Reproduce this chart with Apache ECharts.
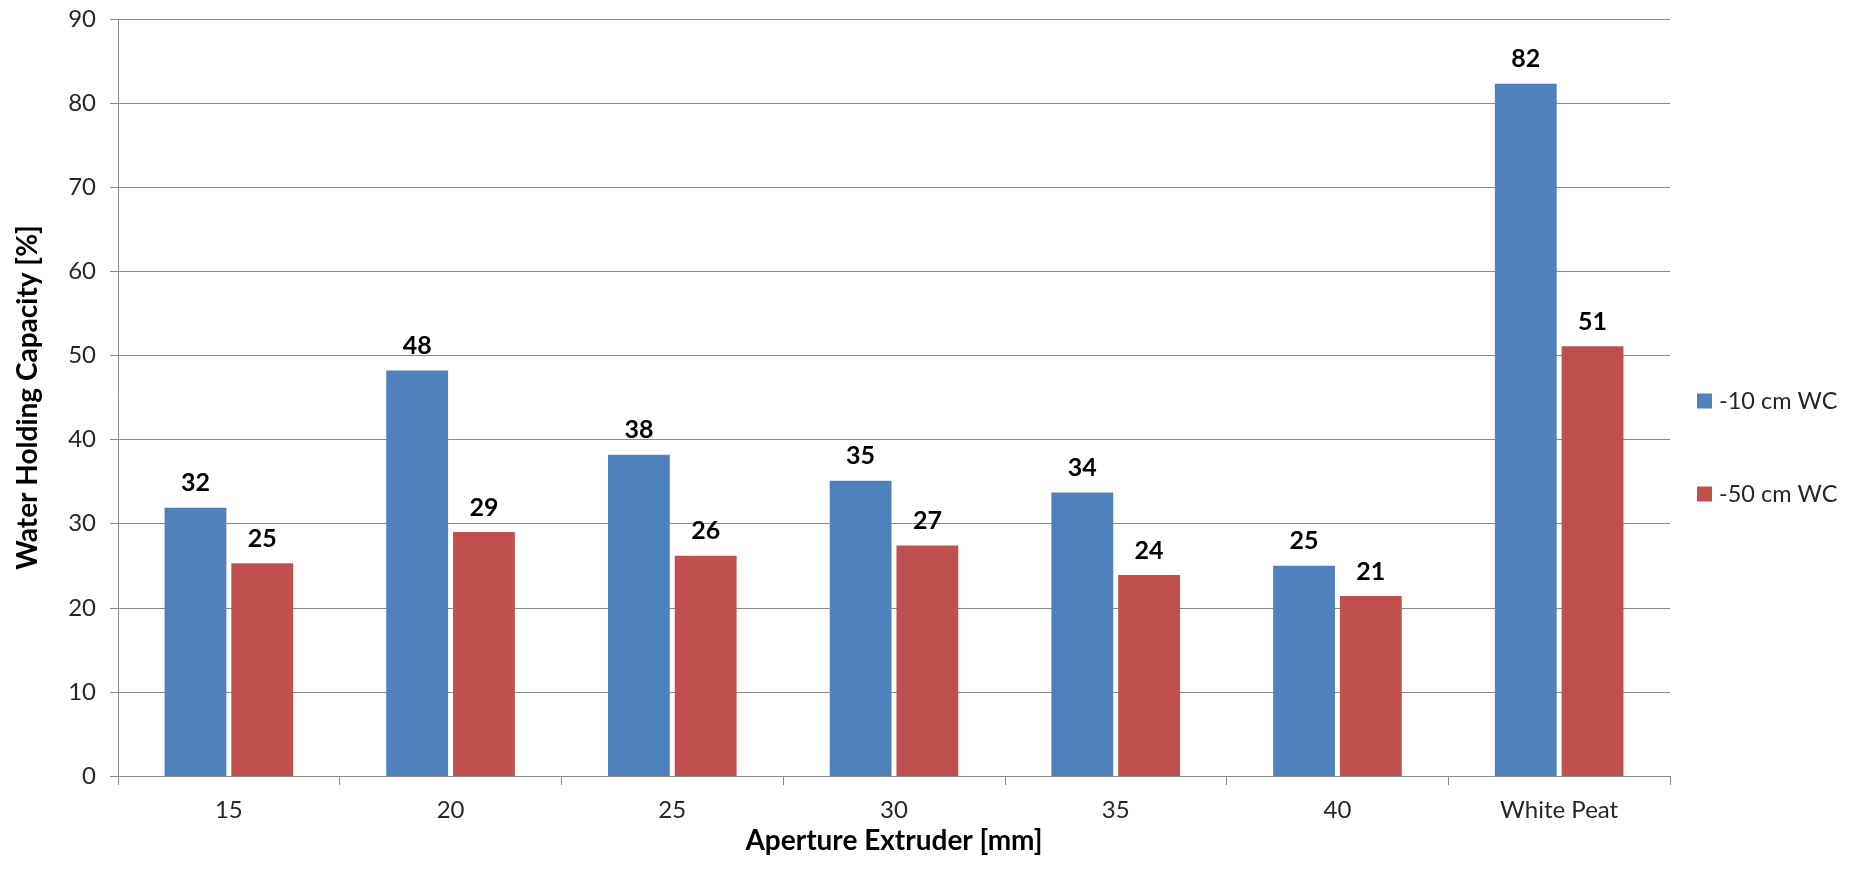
<!DOCTYPE html>
<html>
<head>
<meta charset="utf-8">
<title>Water Holding Capacity</title>
<script src="https://cdn.jsdelivr.net/npm/echarts@6/dist/echarts.min.js"></script>
<style>
  html, body { margin: 0; padding: 0; background: #ffffff; }
  #chart { width: 1850px; height: 870px; }
</style>
</head>
<body>
<div id="chart"></div>
<script>
// Aperture sizes of the extruder, plus the white peat reference
const categories = ['15', '20', '25', '30', '35', '40', 'White Peat'];

// Water holding capacity [%] at two suction levels
const seriesNames = ['-10 cm WC', '-50 cm WC'];
const wc10 = [31.9, 48.2, 38.2, 35.1, 33.7, 25.0, 82.3];
const wc50 = [25.3, 29.0, 26.2, 27.4, 23.9, 21.4, 51.1];

// Value axis ticks
const yMin = 0;
const yMax = 90;
const yStep = 10;

const FONT = 'Lato, "Open Sans", sans-serif';
const AXIS_GRAY = '#8a8a8a';

const chart = echarts.init(document.getElementById('chart'), null, { renderer: 'canvas' });

const barLabel = {
  show: true,
  position: 'top',
  distance: 12,
  color: '#000000',
  fontFamily: FONT,
  fontWeight: 'bold',
  fontSize: 25,
  formatter: p => Math.round(p.value).toString()
};

chart.setOption({
  animation: false,
  backgroundColor: '#ffffff',
  grid: { left: 118, right: 180, top: 19, bottom: 94 },
  legend: {
    orient: 'vertical',
    left: 1692,
    top: 382,
    itemWidth: 15,
    itemHeight: 15,
    itemGap: 65,
    icon: 'rect',
    textStyle: { fontFamily: FONT, fontSize: 23.5, color: '#262626', lineHeight: 28, padding: [0, 0, 0, 2] },
    data: seriesNames
  },
  xAxis: {
    type: 'category',
    data: categories,
    name: 'Aperture Extruder [mm]',
    nameLocation: 'middle',
    nameGap: 50,
    nameTextStyle: { fontFamily: FONT, fontWeight: 'bold', fontSize: 28, color: '#000000' },
    axisLine: { lineStyle: { color: AXIS_GRAY, width: 1 } },
    axisTick: { show: true, length: 9, alignWithLabel: false, lineStyle: { color: AXIS_GRAY } },
    axisLabel: { fontFamily: FONT, fontSize: 24, color: '#262626', margin: 22 },
    splitLine: { show: false }
  },
  yAxis: {
    type: 'value',
    min: yMin,
    max: yMax,
    interval: yStep,
    name: 'Water Holding Capacity [%]',
    nameLocation: 'middle',
    nameRotate: 90,
    nameGap: 76,
    nameTextStyle: { fontFamily: FONT, fontWeight: 'bold', fontSize: 28, color: '#000000' },
    axisLine: { show: true, lineStyle: { color: AXIS_GRAY, width: 1 } },
    axisTick: { show: true, length: 8, lineStyle: { color: AXIS_GRAY } },
    axisLabel: { fontFamily: FONT, fontSize: 24, color: '#262626', margin: 22 },
    splitLine: { show: true, lineStyle: { color: AXIS_GRAY, width: 1 } }
  },
  series: [
    {
      name: seriesNames[0],
      type: 'bar',
      data: wc10,
      barGap: '8%',
      barCategoryGap: '42%',
      itemStyle: { color: '#4F81BD' },
      label: barLabel
    },
    {
      name: seriesNames[1],
      type: 'bar',
      data: wc50,
      barGap: '8%',
      barCategoryGap: '42%',
      itemStyle: { color: '#C0504D' },
      label: barLabel
    }
  ]
});
</script>
</body>
</html>
